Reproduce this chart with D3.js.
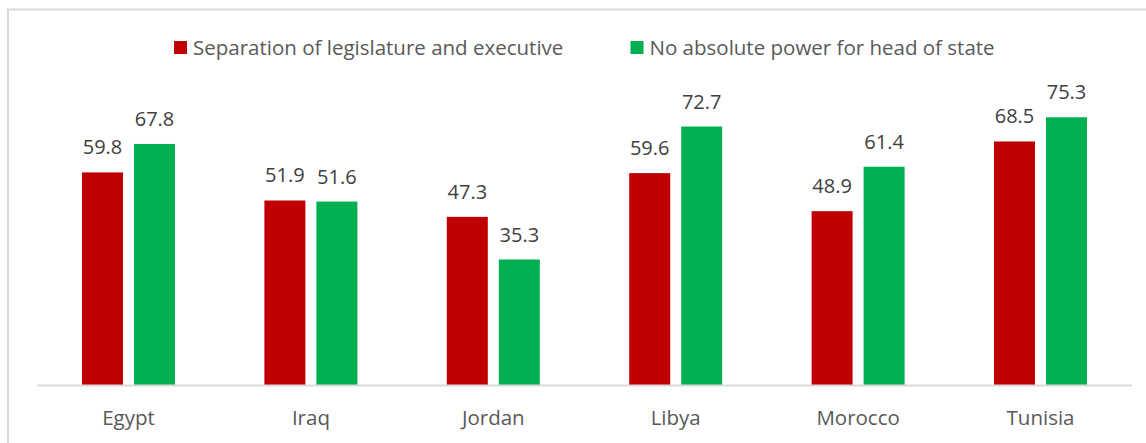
<!DOCTYPE html>
<html>
<head>
<meta charset="utf-8">
<script src="https://cdn.jsdelivr.net/npm/d3@7"></script>
<style>
  body { margin: 0; background: #fff; }
  text { font-family: "Open Sans", "Noto Sans", sans-serif; }
</style>
</head>
<body>
<script>
// chart data
var countries = ["Egypt", "Iraq", "Jordan", "Libya", "Morocco", "Tunisia"];
var seriesNames = ["Separation of legislature and executive", "No absolute power for head of state"];
var separation = [59.8, 51.9, 47.3, 59.6, 48.9, 68.5];
var noAbsolute = [67.8, 51.6, 35.3, 72.7, 61.4, 75.3];
var colors = ["#C00000", "#00B050"];

var width = 1146;
var height = 443;

var svg = d3.select("body").append("svg")
    .attr("width", width)
    .attr("height", height);

// frame (runs off right and bottom like the original)
svg.append("rect")
    .attr("x", 8)
    .attr("y", 9.5)
    .attr("width", width)
    .attr("height", height)
    .attr("fill", "none")
    .attr("stroke", "#d9d9d9")
    .attr("stroke-width", 2);

var x0 = d3.scaleBand()
    .domain(countries)
    .range([37.3, 1131.7])
    .paddingInner(0)
    .paddingOuter(0);

var groupWidth = 93;
var barWidth = 41;
var x1 = d3.scaleOrdinal()
    .domain([0, 1])
    .range([0, groupWidth - barWidth]);

var y = d3.scaleLinear()
    .domain([0, 100])
    .range([385, 385 - 355.5]);

var rows = countries.map(function(c, i) {
    return {country: c, values: [separation[i], noAbsolute[i]]};
});

var group = svg.selectAll(".group")
    .data(rows)
    .enter()
    .append("g")
    .attr("class", "group")
    .attr("transform", function(d) {
        return "translate(" + (x0(d.country) + x0.bandwidth() / 2 - groupWidth / 2) + ",0)";
    });

group.selectAll("rect")
    .data(function(d) { return d.values; })
    .enter()
    .append("rect")
    .attr("x", function(d, i) { return x1(i); })
    .attr("y", function(d) { return y(d); })
    .attr("width", barWidth)
    .attr("height", function(d) { return y(0) - y(d); })
    .attr("fill", function(d, i) { return colors[i]; });

group.selectAll(".val")
    .data(function(d) { return d.values; })
    .enter()
    .append("text")
    .attr("class", "val")
    .attr("x", function(d, i) { return x1(i) + barWidth / 2; })
    .attr("y", function(d) { return y(d) - 18; })
    .attr("text-anchor", "middle")
    .attr("font-size", 20)
    .attr("fill", "#404040")
    .text(function(d) { return d.toFixed(1); });

// baseline
svg.append("line")
    .attr("x1", x0.range()[0])
    .attr("x2", x0.range()[1])
    .attr("y1", y(0) + 0.5)
    .attr("y2", y(0) + 0.5)
    .attr("stroke", "#d9d9d9")
    .attr("stroke-width", 2);

// category labels
var xAxis = d3.axisBottom(x0).tickSize(0).tickPadding(0);
var axisG = svg.append("g")
    .attr("transform", "translate(0," + y(0) + ")")
    .call(xAxis);
axisG.select(".domain").remove();
axisG.selectAll("text")
    .attr("dy", null)
    .attr("y", 40)
    .attr("font-size", 20.5)
    .attr("font-family", "'Open Sans', 'Noto Sans', sans-serif")
    .attr("fill", "#595959");

// legend
var legendX = [174, 630.5];
var legend = svg.selectAll(".legend")
    .data(seriesNames)
    .enter()
    .append("g")
    .attr("class", "legend")
    .attr("transform", function(d, i) { return "translate(" + legendX[i] + ",41)"; });

legend.append("rect")
    .attr("width", 13)
    .attr("height", 13)
    .attr("fill", function(d, i) { return colors[i]; });

legend.append("text")
    .attr("x", 19)
    .attr("y", 14)
    .attr("font-size", 20.5)
    .attr("fill", "#595959")
    .text(function(d) { return d; });
</script>
</body>
</html>
